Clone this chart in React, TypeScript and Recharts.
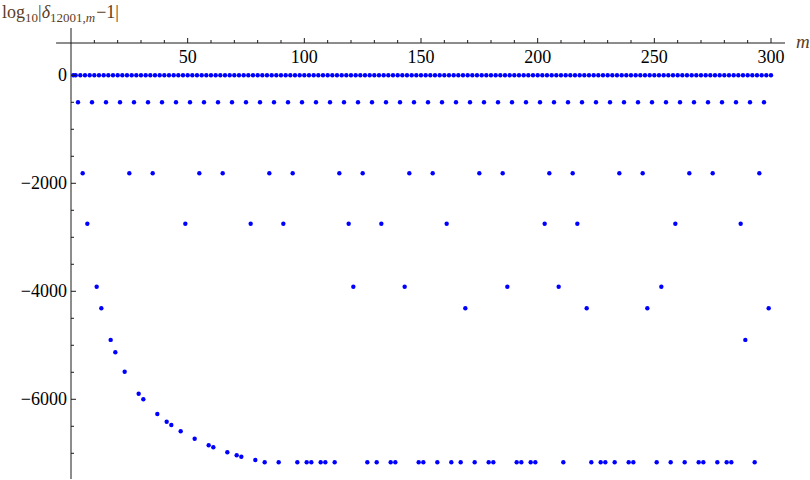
import { ScatterChart, Scatter, XAxis, YAxis, ReferenceLine } from 'recharts';

// log10|delta_{12001,m} - 1|, m = 1..300
const logDelta1to100 = [
  0, 0, -500, 0, -1815, 0, -2748, 0, -500, 0,
  -3915, 0, -4315, 0, -500, 0, -4900, 0, -5130, 0,
  -500, 0, -5489, 0, -1815, 0, -500, 0, -5896, 0,
  -6000, 0, -500, 0, -1815, 0, -6272, 0, -500, 0,
  -6415, 0, -6476, 0, -500, 0, -6593, 0, -2748, 0,
  -500, 0, -6730, 0, -1815, 0, -500, 0, -6852, 0,
  -6889, 0, -500, 0, -1815, 0, -6981, 0, -500, 0,
  -7037, 0, -7063, 0, -500, 0, -2748, 0, -7124, 0,
  -500, 0, -7167, 0, -1815, 0, -500, 0, -7167, 0,
  -2748, 0, -500, 0, -1815, 0, -7167, 0, -500, 0,
];
const logDelta101to200 = [
  -7167, 0, -7167, 0, -500, 0, -7167, 0, -7167, 0,
  -500, 0, -7167, 0, -1815, 0, -500, 0, -2748, 0,
  -3915, 0, -500, 0, -1815, 0, -7167, 0, -500, 0,
  -7167, 0, -2748, 0, -500, 0, -7167, 0, -7167, 0,
  -500, 0, -3915, 0, -1815, 0, -500, 0, -7167, 0,
  -7167, 0, -500, 0, -1815, 0, -7167, 0, -500, 0,
  -2748, 0, -7167, 0, -500, 0, -7167, 0, -4315, 0,
  -500, 0, -7167, 0, -1815, 0, -500, 0, -7167, 0,
  -7167, 0, -500, 0, -1815, 0, -3915, 0, -500, 0,
  -7167, 0, -7167, 0, -500, 0, -7167, 0, -7167, 0,
];
const logDelta201to300 = [
  -500, 0, -2748, 0, -1815, 0, -500, 0, -3915, 0,
  -7167, 0, -500, 0, -1815, 0, -2748, 0, -500, 0,
  -4315, 0, -7167, 0, -500, 0, -7167, 0, -7167, 0,
  -500, 0, -7167, 0, -1815, 0, -500, 0, -7167, 0,
  -7167, 0, -500, 0, -1815, 0, -4315, 0, -500, 0,
  -7167, 0, -3915, 0, -500, 0, -7167, 0, -2748, 0,
  -500, 0, -7167, 0, -1815, 0, -500, 0, -7167, 0,
  -7167, 0, -500, 0, -1815, 0, -7167, 0, -500, 0,
  -7167, 0, -7167, 0, -500, 0, -2748, 0, -4900, 0,
  -500, 0, -7167, 0, -1815, 0, -500, 0, -4315, 0,
];

const xTicks = [10, 20, 30, 40, 50, 60, 70, 80, 90, 100, 110, 120, 130, 140, 150, 160, 170, 180, 190, 200, 210, 220, 230, 240, 250, 260, 270, 280, 290, 300];
const xTickLabels = [50, 100, 150, 200, 250, 300];
const yTicks = [0, -500, -1000, -1500, -2000, -2500, -3000, -3500, -4000, -4500, -5000, -5500, -6000, -6500, -7000];
const yTickLabels = [0, -2000, -4000, -6000];

const points = [...logDelta1to100, ...logDelta101to200, ...logDelta201to300].map((v, i) => ({ m: i + 1, v }));

const AXIS_X = 71;
const AXIS_Y = 43;
const INK = '#1a1a1a';
const LABEL = '#5c3d1e';
const serif = { fontFamily: 'Liberation Serif, serif' };

function XTick({ x, payload }: any) {
  const major = xTickLabels.includes(payload.value);
  return (
    <g>
      <line x1={x} x2={x} y1={AXIS_Y} y2={AXIS_Y - (major ? 5 : 3)} stroke={INK} />
      {major && (
        <text x={x} y={AXIS_Y + 20} textAnchor="middle" fontSize={18} style={serif} fill="#000">
          {payload.value}
        </text>
      )}
    </g>
  );
}

function YTick({ y, payload }: any) {
  const major = yTickLabels.includes(payload.value);
  return (
    <g>
      <line x1={AXIS_X} x2={AXIS_X + (major ? 5 : 3)} y1={y} y2={y} stroke={INK} />
      {major && (
        <text x={AXIS_X - 4} y={y + 6} textAnchor="end" fontSize={18} style={serif} fill="#000">
          {payload.value < 0 ? '\u2212' + Math.abs(payload.value) : payload.value}
        </text>
      )}
    </g>
  );
}

function YTitle() {
  return (
    <text x={2} y={18} fontSize={18} style={serif} fill={LABEL}>
      log
      <tspan dy={4} fontSize={13}>10</tspan>
      <tspan dy={-4}>|</tspan>
      <tspan fontStyle="italic">δ</tspan>
      <tspan dy={4} fontSize={13}>12001,</tspan>
      <tspan fontSize={13} fontStyle="italic">m</tspan>
      <tspan dy={-4} dx={1}>−1|</tspan>
    </text>
  );
}

function XTitle() {
  return (
    <text x={796} y={48} fontSize={19} fontStyle="italic" style={serif} fill={LABEL}>
      m
    </text>
  );
}

export default function App() {
  return (
    <div style={{ position: 'absolute', left: 0, top: 0, width: 810, height: 480, background: '#fff' }}>
      <ScatterChart width={810} height={480} margin={{ top: AXIS_Y - 20, right: 25, bottom: 1, left: AXIS_X - 60 }}>
        <XAxis
          dataKey="m"
          type="number"
          orientation="top"
          domain={[0, 306]}
          allowDataOverflow
          ticks={xTicks}
          interval={0}
          height={20}
          tickLine={false}
          tick={<XTick />}
          axisLine={{ stroke: INK }}
          label={{ content: () => <XTitle /> }}
        />
        <YAxis
          dataKey="v"
          type="number"
          domain={[-7476, 598]}
          allowDataOverflow
          ticks={yTicks}
          interval={0}
          width={60}
          tickLine={false}
          tick={<YTick />}
          axisLine={{ stroke: INK }}
          label={{ content: () => <YTitle /> }}
        />
        <ReferenceLine segment={[{ x: 0, y: 598 }, { x: 0, y: 876 }]} stroke={INK} ifOverflow="visible" />
        <ReferenceLine segment={[{ x: -6.4, y: 598 }, { x: 0, y: 598 }]} stroke={INK} ifOverflow="visible" />
        <Scatter
          data={points}
          isAnimationActive={false}
          shape={(p: any) => <circle cx={p.cx} cy={p.cy} r={2.2} fill="#0000ff" />}
        />
      </ScatterChart>
    </div>
  );
}
